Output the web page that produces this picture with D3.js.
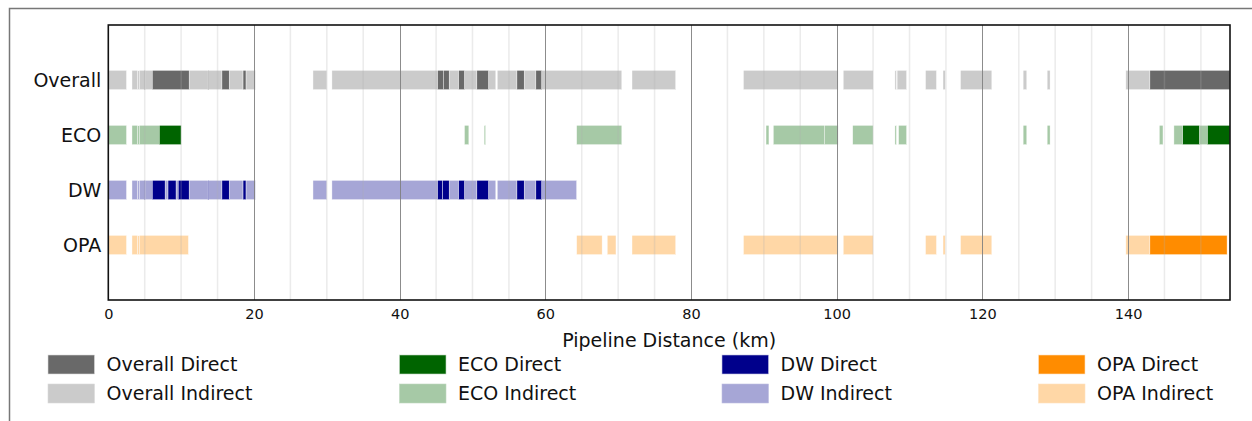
<!DOCTYPE html>
<html>
<head>
<meta charset="utf-8">
<script src="https://cdn.jsdelivr.net/npm/d3@7"></script>
<style>
  html, body { margin: 0; padding: 0; background: #fff; }
  svg { display: block; }
  text { font-family: "DejaVu Sans", sans-serif; fill: #111; }
</style>
</head>
<body>
<svg id="chart" width="1252" height="421"></svg>
<script>
// ---- data ----
const rowNames = ["Overall", "ECO", "DW", "OPA"];
const xTicks = [0, 20, 40, 60, 80, 100, 120, 140];
const pipelineLength = 154;
const xLabel = "Pipeline Distance (km)";

// segments: [start km, end km, type] — D = Direct, I = Indirect
const overallSegments = [
  [0, 2.5, "I"], [3.25, 4.05, "I"], [4.05, 4.25, "I"], [4.25, 6.04, "I"], [4.95, 5.05, "D"],
  [6.04, 11.1, "D"], [11.1, 15.6, "I"], [13.65, 13.75, "D"], [15.6, 16.6, "D"], [16.6, 18.5, "I"],
  [18.5, 18.9, "D"], [18.9, 20.2, "I"], [28.1, 30.0, "I"], [30.7, 45.2, "I"], [45.2, 46.0, "D"],
  [46.0, 46.8, "D"], [46.8, 48.1, "I"], [48.1, 48.9, "D"], [48.9, 50.6, "I"], [50.6, 52.2, "D"],
  [52.2, 53.2, "I"], [53.4, 56.1, "I"], [56.1, 57.1, "D"], [57.1, 58.7, "I"], [58.7, 59.5, "D"],
  [59.5, 70.5, "I"], [71.9, 77.9, "I"], [87.2, 100.2, "I"], [100.9, 105.0, "I"], [108.0, 108.2, "I"],
  [108.3, 109.6, "I"], [112.2, 113.7, "I"], [114.6, 114.9, "I"], [117.0, 121.3, "I"],
  [125.6, 126.1, "I"], [128.9, 129.3, "I"], [139.7, 143.0, "I"], [143.0, 154.0, "D"]
];
const ecoSegments = [
  [0, 2.5, "I"], [3.25, 4.05, "I"], [4.05, 4.25, "I"], [4.25, 7.0, "I"], [7.0, 10.0, "D"],
  [48.9, 49.5, "I"], [51.6, 51.8, "I"], [64.3, 70.5, "I"], [90.3, 90.7, "I"], [91.3, 98.3, "I"],
  [98.3, 100.2, "I"], [102.2, 105.0, "I"], [108.0, 108.2, "I"], [108.5, 109.6, "I"],
  [125.6, 126.1, "I"], [128.9, 129.3, "I"], [144.3, 144.8, "I"], [146.3, 147.5, "I"],
  [147.5, 149.8, "D"], [149.8, 150.9, "I"], [150.9, 154.0, "D"]
];
const dwSegments = [
  [0, 2.5, "I"], [3.25, 4.05, "I"], [4.05, 4.25, "I"], [4.25, 6.04, "I"], [4.95, 5.05, "D"],
  [6.04, 7.8, "D"], [7.8, 8.2, "I"], [8.2, 9.3, "D"], [9.3, 9.6, "I"], [9.6, 11.1, "D"],
  [11.1, 15.6, "I"], [13.65, 13.75, "D"], [15.6, 16.6, "D"], [16.6, 18.5, "I"], [18.5, 18.9, "D"],
  [18.9, 20.2, "I"], [28.1, 30.0, "I"], [30.7, 45.2, "I"], [45.2, 45.9, "D"], [45.9, 46.8, "D"],
  [46.8, 48.1, "I"], [48.1, 48.9, "D"], [48.9, 50.6, "I"], [50.6, 52.2, "D"], [52.2, 53.2, "I"],
  [53.4, 56.1, "I"], [56.1, 57.1, "D"], [57.1, 58.7, "I"], [58.7, 59.5, "D"], [59.5, 64.3, "I"]
];
const opaSegments = [
  [0, 2.5, "I"], [3.25, 4.05, "I"], [4.05, 4.25, "I"], [4.25, 11.0, "I"], [64.3, 67.8, "I"],
  [68.5, 69.7, "I"], [71.9, 77.9, "I"], [87.2, 100.2, "I"], [100.9, 105.0, "I"],
  [112.2, 113.7, "I"], [114.6, 114.9, "I"], [117.0, 121.3, "I"], [139.7, 143.0, "I"],
  [143.0, 153.6, "D"]
];
const directColors = ["#696969", "#006400", "#00008b", "#ff8c00"];
const indirectAlpha = 0.35;

// ---- drawing ----
const segsByRow = [overallSegments, ecoSegments, dwSegments, opaSegments];
const svg = d3.select("#chart");
const L = 108.3, R = 1230, T = 25, B = 300;

// outer frame
svg.append("rect").attr("x", 9.5).attr("y", 8.5).attr("width", 1300).attr("height", 500)
  .attr("fill", "none").attr("stroke", "#777").attr("stroke-width", 1.5);

const x = d3.scaleLinear().domain([0, pipelineLength]).range([L, R]);
const y = d3.scaleLinear().domain([0, 5]).range([T, B]);
const barH = y(0.35) - y(0);

function mix(c, a) {
  const rgb = d3.rgb(c);
  return d3.rgb(rgb.r * a + 255 * (1 - a), rgb.g * a + 255 * (1 - a), rgb.b * a + 255 * (1 - a)).formatHex();
}

const plot = svg.append("g");
rowNames.forEach((name, i) => {
  const segs = segsByRow[i].slice().sort((a, b) => (a[2] === b[2] ? 0 : a[2] === "I" ? -1 : 1));
  plot.append("g").selectAll("rect").data(segs).join("rect")
    .attr("x", d => x(d[0]))
    .attr("width", d => Math.max(0.6, x(d[1]) - x(d[0])))
    .attr("y", y(i + 1) - barH / 2)
    .attr("height", barH)
    .attr("fill", d => d[2] === "D" ? directColors[i] : mix(directColors[i], indirectAlpha))
    .attr("stroke", "#fff").attr("stroke-width", 0.5).attr("stroke-opacity", 0.8);
});

// grid lines (minor every 5 km, major at ticks), on top with transparency
const minor = d3.range(5, pipelineLength, 5).filter(v => v % 20 !== 0);
svg.append("g").selectAll("line").data(minor).join("line")
  .attr("x1", d => x(d)).attr("x2", d => x(d)).attr("y1", T).attr("y2", B)
  .attr("stroke", "#b0b0b0").attr("stroke-opacity", 0.25).attr("stroke-width", 1.5);
svg.append("g").selectAll("line").data(xTicks.filter(v => v > 0)).join("line")
  .attr("x1", d => Math.round(x(d)) + 0.5).attr("x2", d => Math.round(x(d)) + 0.5).attr("y1", T).attr("y2", B)
  .attr("stroke", "#808080").attr("stroke-opacity", 0.9).attr("stroke-width", 1);

// axes
const xAxis = d3.axisBottom(x).tickValues(xTicks).tickSize(0).tickPadding(9);
const gx = svg.append("g").attr("transform", `translate(0,${B})`).call(xAxis);
gx.select(".domain").remove();
gx.selectAll("text").style("font-size", "14.5px").style("font-family", "DejaVu Sans").attr("fill", "#111");

const yAxis = d3.axisLeft(y).tickValues([1, 2, 3, 4]).tickFormat((d) => rowNames[d - 1]).tickSize(0).tickPadding(7);
const gy = svg.append("g").attr("transform", `translate(${L},0)`).call(yAxis);
gy.select(".domain").remove();
gy.selectAll("text").style("font-size", "19px").style("font-family", "DejaVu Sans").attr("fill", "#111");

// frame spines
svg.append("rect").attr("x", L).attr("y", T).attr("width", R - L).attr("height", B - T)
  .attr("fill", "none").attr("stroke", "#111").attr("stroke-width", 1.6);

// x label
svg.append("text").attr("x", (L + R) / 2).attr("y", 347).attr("text-anchor", "middle")
  .style("font-size", "19px").text(xLabel);

// legend
const legendX = [48, 399.5, 722, 1038.5];
const legendRowY = [355, 384];
rowNames.forEach((name, i) => {
  [["Direct", 1], ["Indirect", indirectAlpha]].forEach((t, j) => {
    const col = t[1] === 1 ? directColors[i] : mix(directColors[i], indirectAlpha);
    svg.append("rect").attr("x", legendX[i]).attr("y", legendRowY[j]).attr("width", 46.5).attr("height", 19)
      .attr("fill", col).attr("stroke", mix(directColors[i], 0.25)).attr("stroke-width", 0.6);
    svg.append("text").attr("x", legendX[i] + 58.5).attr("y", legendRowY[j] + 9.5).attr("dy", "0.35em")
      .style("font-size", "19px").text(`${name} ${t[0]}`);
  });
});
</script>
</body>
</html>
